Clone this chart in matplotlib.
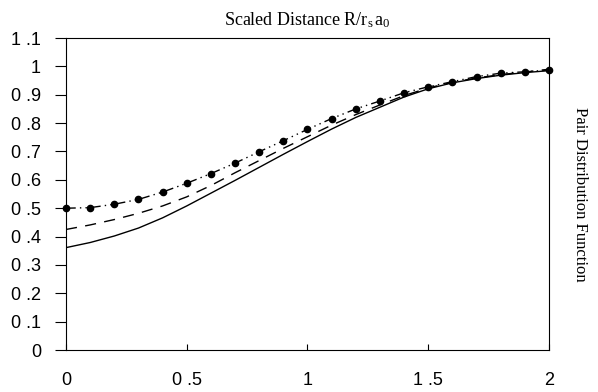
import numpy as np
import matplotlib.pyplot as plt

plt.rcParams['mathtext.fontset'] = 'custom'
plt.rcParams['mathtext.rm'] = 'Liberation Serif'
plt.rcParams['mathtext.it'] = 'Liberation Serif'

# scaled distance grid
r = [0.0, 0.1, 0.2, 0.3, 0.4, 0.5, 0.6, 0.7, 0.8, 0.9, 1.0,
     1.1, 1.2, 1.3, 1.4, 1.5, 1.6, 1.7, 1.8, 1.9, 2.0]

# solid curve
g_solid = [0.361, 0.379, 0.402, 0.430, 0.466, 0.508, 0.553, 0.598, 0.644, 0.690, 0.735,
           0.779, 0.820, 0.856, 0.892, 0.921, 0.942, 0.957, 0.969, 0.978, 0.985]

# dashed curve
g_dashed = [0.425, 0.441, 0.460, 0.482, 0.508, 0.540, 0.580, 0.625, 0.668, 0.711, 0.752,
            0.793, 0.830, 0.864, 0.897, 0.924, 0.944, 0.959, 0.971, 0.980, 0.990]

# dash-dot curve with dots
g_dots = [0.500, 0.502, 0.514, 0.531, 0.557, 0.588, 0.622, 0.659, 0.699, 0.738, 0.778,
          0.816, 0.850, 0.878, 0.907, 0.928, 0.946, 0.964, 0.976, 0.981, 0.987]

xticks = [0, 0.5, 1, 1.5, 2]
yticks = [0, 0.1, 0.2, 0.3, 0.4, 0.5, 0.6, 0.7, 0.8, 0.9, 1, 1.1]

fig = plt.figure(figsize=(5.98, 3.92), dpi=100)
ax = fig.add_axes([0.1104, 0.1071, 0.8076, 0.7959])

ax.plot(r, g_solid, color='black', lw=1.0)
ax.plot(r, g_dashed, color='black', lw=1.0, dashes=(8, 6))
ax.plot(r, g_dots, color='black', lw=1.0, dashes=(7, 3, 1, 3, 1, 3),
        marker='o', markersize=4.5, clip_on=False)

ax.set_xlim(0, 2)
ax.set_ylim(0, 1.1)

lab = lambda v: ('%g' % v).replace('.', ' .')
ax.set_xticks(xticks)
ax.set_xticklabels([lab(v) for v in xticks], family='Liberation Sans', fontsize=13)
ax.set_yticks(yticks)
ax.set_yticklabels([lab(v) for v in yticks], family='Liberation Sans', fontsize=13)
ax.tick_params(axis='y', direction='out', length=8, width=0.8, pad=10)
ax.tick_params(axis='x', direction='in', length=4, width=0.8, pad=16)

for s in ax.spines.values():
    s.set_linewidth(0.8)

ax.set_title('Scaled Distance R/r$_{\\mathrm{s}}\\,$a$_{\\mathrm{0}}$',
             family='Liberation Serif', fontsize=13, pad=9)
ax.text(1.065, 0.5, 'Pair Distribution Function', transform=ax.transAxes,
        rotation=270, va='center', ha='center', family='Liberation Serif', fontsize=12)

fig.savefig('out.png', dpi=100)
